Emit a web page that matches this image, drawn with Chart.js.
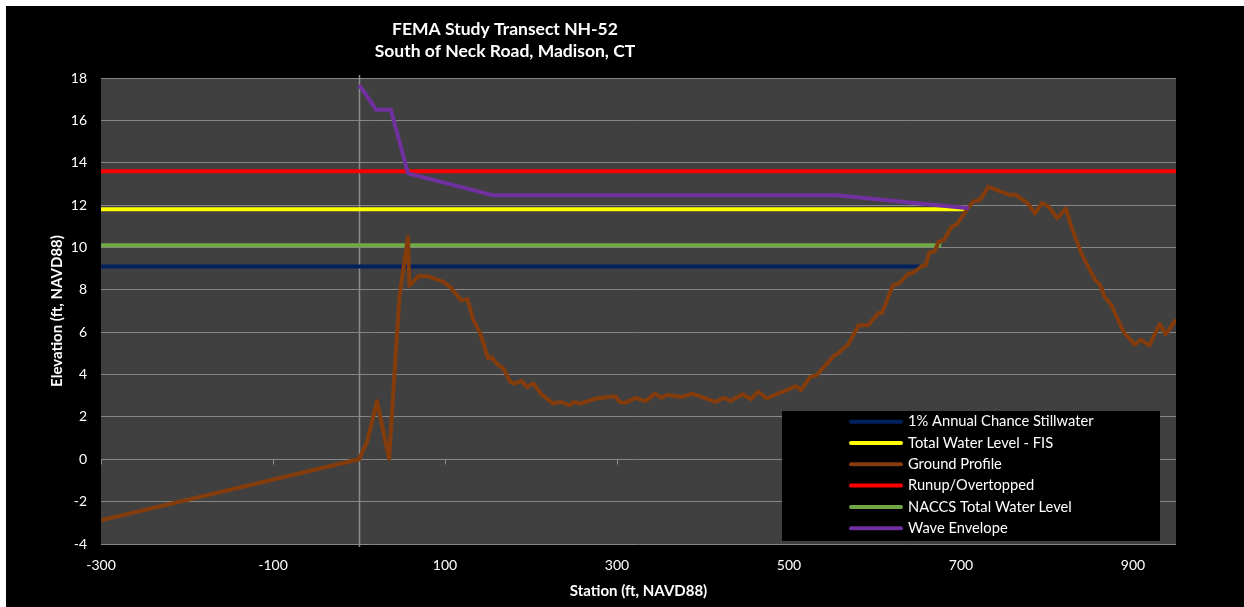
<!DOCTYPE html>
<html>
<head>
<meta charset="utf-8">
<script src="https://cdn.jsdelivr.net/npm/chart.js@4/dist/chart.umd.min.js"></script>
<style>
html, body { margin: 0; padding: 0; background: #ffffff; }
#wrap { position: absolute; left: 6px; top: 6px; width: 1238px; height: 601px; background: #000000; }
canvas { display: block; }
</style>
</head>
<body>
<div id="wrap"><canvas id="c" width="1238" height="601"></canvas></div>
<script>
// ---- data ----
const titleLines = ['FEMA Study Transect NH-52', 'South of Neck Road, Madison, CT'];
const xAxisTitle = 'Station (ft, NAVD88)';
const yAxisTitle = 'Elevation (ft, NAVD88)';

const seriesNames = ['1% Annual Chance Stillwater', 'Total Water Level - FIS', 'Ground Profile',
                     'Runup/Overtopped', 'NACCS Total Water Level', 'Wave Envelope'];
const seriesColors = ['#002060', '#FFFF00', '#843C0C', '#FF0000', '#6FA845', '#7030A0'];

const xTickValues = [-300, -100, 100, 300, 500, 700, 900];
const yTickValues = [-4, -2, 0, 2, 4, 6, 8, 10, 12, 14, 16, 18];

const stillwaterX = [-300, 652];
const stillwaterY = [9.1, 9.1];
const fisX = [-300, 706];
const fisY = [11.8, 11.8];
const runupX = [-300, 950];
const runupY = [13.6, 13.6];
const naccsX = [-300, 677];
const naccsY = [10.1, 10.1];

const waveX = [0, 5, 20, 37, 57, 155, 555, 709];
const waveY = [17.67, 17.4, 16.5, 16.5, 13.5, 12.47, 12.47, 11.85];

const groundX = [-300, 0, 9, 21, 35, 47, 57, 58.5, 69, 81, 98, 106, 119, 126, 133, 141, 150, 154, 160, 168,
                 176, 181, 189, 195, 203, 212, 226, 234, 245, 250, 257, 276, 298, 303, 309, 322, 333, 344, 352, 358,
                 375, 388, 414, 425, 432, 446, 456, 464, 474, 497, 508, 514, 525, 532, 552, 557, 569, 581, 592, 604,
                 608, 621, 628, 639, 643, 656, 659, 663, 669, 674, 680, 689, 695, 701, 707, 714, 722, 732, 757, 763,
                 778, 786, 794, 802, 812, 822, 829, 840, 848, 856, 862, 867, 875, 889, 902, 909, 919, 931, 938, 950];
const groundY = [-2.88, 0, 0.77, 2.74, 0.02, 7.67, 10.5, 8.2, 8.64, 8.64, 8.38, 8.14, 7.5, 7.56, 6.57, 5.94, 4.76, 4.83, 4.52, 4.28,
                 3.65, 3.57, 3.7, 3.42, 3.57, 3.06, 2.63, 2.71, 2.55, 2.71, 2.63, 2.87, 2.98, 2.71, 2.66, 2.9, 2.74, 3.1, 2.9, 3.04,
                 2.94, 3.1, 2.71, 2.9, 2.75, 3.07, 2.83, 3.2, 2.87, 3.26, 3.46, 3.26, 3.9, 3.97, 4.87, 4.99, 5.43, 6.33, 6.33, 6.91,
                 6.91, 8.22, 8.3, 8.77, 8.77, 9.16, 9.16, 9.75, 9.8, 10.27, 10.35, 10.97, 11.08, 11.45, 11.8, 12.15, 12.25, 12.86, 12.47, 12.5,
                 12.07, 11.6, 12.1, 11.93, 11.37, 11.84, 10.9, 9.72, 9.08, 8.46, 8.22, 7.67, 7.27, 6.01, 5.41, 5.65, 5.38, 6.38, 5.9, 6.6];

// ---- build chart ----
const FONT = 'Lato';
function pts(xs, ys) { return xs.map((x, i) => ({ x: x, y: ys[i] })); }
const seriesData = [pts(stillwaterX, stillwaterY), pts(fisX, fisY), pts(groundX, groundY),
                    pts(runupX, runupY), pts(naccsX, naccsY), pts(waveX, waveY)];
const drawOrder = [5, 4, 1, 3, 2, 0];

const datasets = seriesNames.map((name, i) => ({
  label: name,
  data: seriesData[i],
  borderColor: seriesColors[i],
  backgroundColor: seriesColors[i],
  borderWidth: 4,
  pointRadius: 0,
  pointHoverRadius: 0,
  tension: 0,
  fill: false,
  borderJoinStyle: 'round',
  borderCapStyle: 'butt',
  order: drawOrder[i]
}));

const plotBg = {
  id: 'plotBg',
  beforeDraw(chart) {
    const { ctx, chartArea: a } = chart;
    ctx.save();
    ctx.fillStyle = '#404040';
    ctx.fillRect(a.left, a.top, a.right - a.left, a.bottom - a.top);
    ctx.restore();
  }
};

const axisLines = {
  id: 'axisLines',
  beforeDatasetsDraw(chart) {
    const { ctx, chartArea: a, scales } = chart;
    const xs = scales.x, ys = scales.y;
    const x0 = Math.round(xs.getPixelForValue(0)) + 0.5;
    const y0 = Math.round(ys.getPixelForValue(0)) + 0.5;
    ctx.save();
    ctx.strokeStyle = '#8c8c8c';
    ctx.lineWidth = 1.5;
    ctx.beginPath();
    ctx.moveTo(x0, a.top - 3);
    ctx.lineTo(x0, a.bottom + 3);
    ctx.stroke();
    ctx.lineWidth = 1;
    xTickValues.forEach(v => {
      const px = Math.round(xs.getPixelForValue(v)) + 0.5;
      ctx.beginPath();
      ctx.moveTo(px, y0);
      ctx.lineTo(px, y0 + 5);
      ctx.stroke();
    });
    ctx.restore();
  }
};

const textPlugin = {
  id: 'textPlugin',
  afterDraw(chart) {
    const { ctx, chartArea: a } = chart;
    ctx.save();
    // title
    ctx.fillStyle = '#ffffff';
    ctx.font = 'bold 17.5px ' + FONT;
    ctx.textAlign = 'center';
    ctx.textBaseline = 'alphabetic';
    ctx.fillText(titleLines[0], 499, 29);
    ctx.fillText(titleLines[1], 499, 51);
    // legend
    const boxW = 378, boxH = 130;
    const bx = a.right - 16 - boxW;
    const by = a.bottom - 3 - boxH;
    ctx.fillStyle = '#000000';
    ctx.fillRect(bx, by, boxW, boxH);
    ctx.font = '14.7px ' + FONT;
    ctx.textAlign = 'left';
    ctx.textBaseline = 'middle';
    chart.data.datasets.forEach((ds, i) => {
      const cy = by + 10.7 + i * 21.3;
      ctx.strokeStyle = ds.borderColor;
      ctx.lineWidth = 4;
      ctx.lineCap = 'round';
      ctx.beginPath();
      ctx.moveTo(bx + 69, cy);
      ctx.lineTo(bx + 119, cy);
      ctx.stroke();
      ctx.fillStyle = '#ffffff';
      ctx.fillText(ds.label, bx + 126, cy);
    });
    ctx.restore();
  }
};

new Chart(document.getElementById('c'), {
  type: 'line',
  data: { datasets: datasets },
  plugins: [plotBg, axisLines, textPlugin],
  options: {
    responsive: false,
    animation: false,
    devicePixelRatio: 1,
    layout: { padding: { top: 72, right: 68, left: 0, bottom: 0 } },
    plugins: { legend: { display: false }, tooltip: { enabled: false }, title: { display: false } },
    scales: {
      x: {
        type: 'linear',
        min: -300, max: 950,
        afterBuildTicks(scale) { scale.ticks = xTickValues.map(v => ({ value: v })); },
        afterFit(scale) { scale.height = 63; },
        grid: { display: false, drawTicks: false },
        border: { display: false },
        ticks: { color: '#ffffff', font: { family: FONT, size: 14 }, padding: 13, maxRotation: 0, autoSkip: false },
        title: { display: true, text: xAxisTitle, color: '#ffffff', font: { family: FONT, size: 15, weight: 'bold' },
                 padding: { top: 0, bottom: 7 } }
      },
      y: {
        type: 'linear',
        min: -4, max: 18,
        afterBuildTicks(scale) { scale.ticks = yTickValues.map(v => ({ value: v })); },
        afterFit(scale) { scale.width = 95; },
        grid: { color: '#868686', lineWidth: 1, drawTicks: false },
        border: { display: false },
        ticks: { color: '#ffffff', font: { family: FONT, size: 14 }, padding: 14, autoSkip: false },
        title: { display: true, text: yAxisTitle, color: '#ffffff', font: { family: FONT, size: 15, weight: 'bold' },
                 padding: { top: 42, bottom: 0 } }
      }
    }
  }
});
</script>
</body>
</html>
